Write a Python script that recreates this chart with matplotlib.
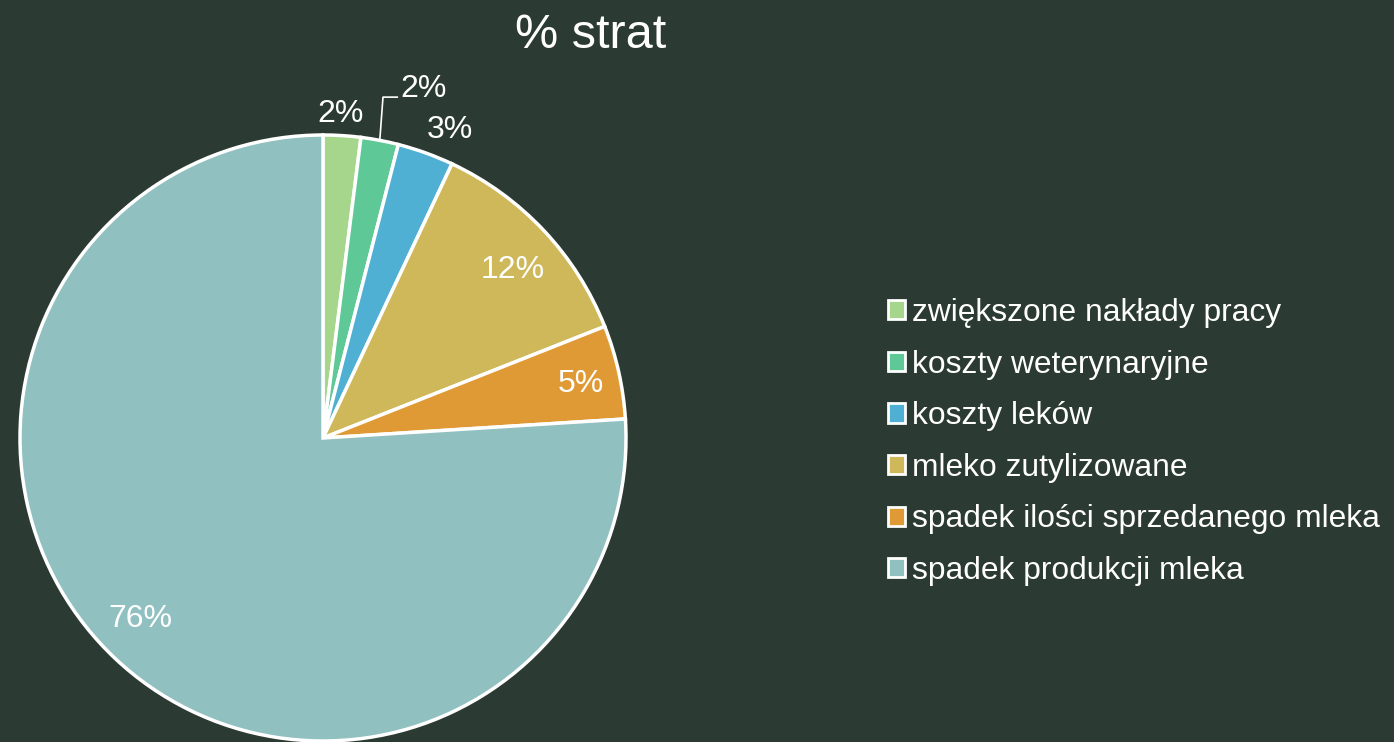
import numpy as np
import matplotlib
matplotlib.use("Agg")
import matplotlib.pyplot as plt
from matplotlib.patches import Patch

plt.rcParams['font.family'] = ['Liberation Sans', 'DejaVu Sans']

# data
categories = ['zwiększone nakłady pracy', 'koszty weterynaryjne', 'koszty leków',
              'mleko zutylizowane', 'spadek ilości sprzedanego mleka', 'spadek produkcji mleka']
values = [2, 2, 3, 12, 5, 76]
colors = ['#a5d68b', '#5ec896', '#4fb0d3', '#cfb85a', '#e09a35', '#91c0c1']
# label radius and angle nudge (deg)
label_r = [1.07, None, 1.10, 0.835, 0.87, 0.85]
label_da = [0.5, 0, -2.5, -1.6, -0.8, -2.0]

bg = '#2b3a33'
fig = plt.figure(figsize=(13.94, 7.42), dpi=100, facecolor=bg)

ax = fig.add_axes([20 / 1394, 1 / 742, 606 / 1394, 606 / 742])
ax.set_facecolor(bg)
wedges, _ = ax.pie(values, colors=colors, startangle=90, counterclock=False, radius=1,
                   wedgeprops=dict(edgecolor='white', linewidth=2.5))
ax.set_xlim(-1, 1)
ax.set_ylim(-1, 1)
ax.set_aspect('equal')
ax.axis('off')

total = sum(values)
start = 90.0
for i, v in enumerate(values):
    ang = np.deg2rad(start - 360 * v / total / 2 + label_da[i])
    start -= 360 * v / total
    txt = f'{v}%'
    if label_r[i] is None:
        ex, ey = np.cos(ang), np.sin(ang)
        ax.plot([ex, 0.198, 0.245], [ey, 1.125, 1.125], color='white', lw=1.2, clip_on=False)
        ax.text(0.255, 1.152, txt, color='white', fontsize=23, ha='left', va='center')
    else:
        r = label_r[i]
        ax.text(r * np.cos(ang), r * np.sin(ang), txt, color='white', fontsize=23,
                ha='center', va='center')

fig.text(0.424, 0.952, '% strat', color='white', fontsize=35, ha='center', va='center')

handles = [Patch(facecolor=c, edgecolor='white', linewidth=2) for c in colors]
leg = fig.legend(handles, categories, loc='center left', bbox_to_anchor=(888 / 1394, 300 / 742),
                 frameon=False, fontsize=22.9, labelcolor='white', handlelength=0.55,
                 handleheight=0.55, handletextpad=0.22, labelspacing=0.68,
                 borderpad=0, borderaxespad=0)

fig.savefig('out.png', dpi=100, facecolor=bg)
